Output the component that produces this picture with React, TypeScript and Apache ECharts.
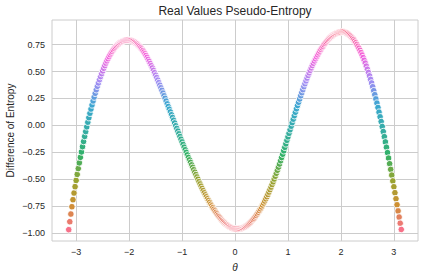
import React, { useEffect, useRef } from "react";
import * as echarts from "echarts";

// θ values of the scatter points
const theta = [
  -3.14, -3.12, -3.10, -3.08, -3.06, -3.04, -3.02, -3.00, -2.98, -2.96,
  -2.94, -2.92, -2.90, -2.88, -2.86, -2.84, -2.82, -2.80, -2.78, -2.76,
  -2.74, -2.72, -2.70, -2.68, -2.66, -2.64, -2.62, -2.60, -2.58, -2.56,
  -2.54, -2.52, -2.50, -2.48, -2.46, -2.44, -2.42, -2.40, -2.38, -2.36,
  -2.34, -2.32, -2.30, -2.28, -2.26, -2.24, -2.22, -2.20, -2.18, -2.16,
  -2.14, -2.12, -2.10, -2.08, -2.06, -2.04, -2.02, -2.00, -1.98, -1.96,
  -1.94, -1.92, -1.90, -1.88, -1.86, -1.84, -1.82, -1.80, -1.78, -1.76,
  -1.74, -1.72, -1.70, -1.68, -1.66, -1.64, -1.62, -1.60, -1.58, -1.56,
  -1.54, -1.52, -1.50, -1.48, -1.46, -1.44, -1.42, -1.40, -1.38, -1.36,
  -1.34, -1.32, -1.30, -1.28, -1.26, -1.24, -1.22, -1.20, -1.18, -1.16,
  -1.14, -1.12, -1.10, -1.08, -1.06, -1.04, -1.02, -1.00, -0.98, -0.96,
  -0.94, -0.92, -0.90, -0.88, -0.86, -0.84, -0.82, -0.80, -0.78, -0.76,
  -0.74, -0.72, -0.70, -0.68, -0.66, -0.64, -0.62, -0.60, -0.58, -0.56,
  -0.54, -0.52, -0.50, -0.48, -0.46, -0.44, -0.42, -0.40, -0.38, -0.36,
  -0.34, -0.32, -0.30, -0.28, -0.26, -0.24, -0.22, -0.20, -0.18, -0.16,
  -0.14, -0.12, -0.10, -0.08, -0.06, -0.04, -0.02, 0.00, 0.02, 0.04,
  0.06, 0.08, 0.10, 0.12, 0.14, 0.16, 0.18, 0.20, 0.22, 0.24,
  0.26, 0.28, 0.30, 0.32, 0.34, 0.36, 0.38, 0.40, 0.42, 0.44,
  0.46, 0.48, 0.50, 0.52, 0.54, 0.56, 0.58, 0.60, 0.62, 0.64,
  0.66, 0.68, 0.70, 0.72, 0.74, 0.76, 0.78, 0.80, 0.82, 0.84,
  0.86, 0.88, 0.90, 0.92, 0.94, 0.96, 0.98, 1.00, 1.02, 1.04,
  1.06, 1.08, 1.10, 1.12, 1.14, 1.16, 1.18, 1.20, 1.22, 1.24,
  1.26, 1.28, 1.30, 1.32, 1.34, 1.36, 1.38, 1.40, 1.42, 1.44,
  1.46, 1.48, 1.50, 1.52, 1.54, 1.56, 1.58, 1.60, 1.62, 1.64,
  1.66, 1.68, 1.70, 1.72, 1.74, 1.76, 1.78, 1.80, 1.82, 1.84,
  1.86, 1.88, 1.90, 1.92, 1.94, 1.96, 1.98, 2.00, 2.02, 2.04,
  2.06, 2.08, 2.10, 2.12, 2.14, 2.16, 2.18, 2.20, 2.22, 2.24,
  2.26, 2.28, 2.30, 2.32, 2.34, 2.36, 2.38, 2.40, 2.42, 2.44,
  2.46, 2.48, 2.50, 2.52, 2.54, 2.56, 2.58, 2.60, 2.62, 2.64,
  2.66, 2.68, 2.70, 2.72, 2.74, 2.76, 2.78, 2.80, 2.82, 2.84,
  2.86, 2.88, 2.90, 2.92, 2.94, 2.96, 2.98, 3.00, 3.02, 3.04,
  3.06, 3.08, 3.10, 3.12, 3.14,
];

// Difference of entropy at each θ
const entropy = [
  -0.967, -0.893, -0.822, -0.754, -0.689, -0.627, -0.568, -0.510, -0.454, -0.400,
  -0.347, -0.296, -0.246, -0.197, -0.149, -0.102, -0.057, -0.013, 0.030, 0.072,
  0.113, 0.152, 0.190, 0.227, 0.263, 0.298, 0.331, 0.363, 0.394, 0.424,
  0.453, 0.480, 0.506, 0.531, 0.555, 0.578, 0.599, 0.619, 0.638, 0.656,
  0.673, 0.688, 0.702, 0.715, 0.727, 0.738, 0.748, 0.756, 0.764, 0.770,
  0.776, 0.781, 0.785, 0.788, 0.790, 0.791, 0.792,
  0.791, 0.790, 0.788, 0.784, 0.780, 0.774, 0.768, 0.760, 0.752, 0.742,
  0.732, 0.720, 0.708, 0.694, 0.680, 0.664, 0.648, 0.631, 0.612, 0.594,
  0.574, 0.554, 0.533, 0.511, 0.489, 0.466, 0.444, 0.420, 0.397, 0.373,
  0.349, 0.325, 0.300, 0.275, 0.251, 0.226, 0.200, 0.175, 0.150, 0.125,
  0.099, 0.074, 0.048, 0.023, -0.003, -0.028, -0.053, -0.078, -0.103, -0.128,
  -0.153, -0.177, -0.202, -0.226, -0.250, -0.273, -0.297, -0.320, -0.343, -0.366,
  -0.389, -0.411, -0.434, -0.456, -0.478, -0.500, -0.522, -0.543, -0.564, -0.585,
  -0.605, -0.625, -0.644, -0.662, -0.680, -0.697, -0.714, -0.731, -0.747, -0.763,
  -0.778, -0.793, -0.807, -0.821, -0.835, -0.847, -0.859, -0.871, -0.882, -0.892,
  -0.902, -0.911, -0.919, -0.927, -0.934, -0.940, -0.945, -0.950, -0.953, -0.956,
  -0.958, -0.959, -0.960,
  -0.960, -0.959, -0.957, -0.955, -0.951, -0.947, -0.942, -0.936, -0.929, -0.921,
  -0.913, -0.904, -0.894, -0.883, -0.872, -0.860, -0.847, -0.834, -0.820, -0.805,
  -0.789, -0.773, -0.756, -0.738, -0.720, -0.701, -0.681, -0.661, -0.640, -0.618,
  -0.595, -0.572, -0.548, -0.523, -0.497, -0.471, -0.444, -0.416, -0.387, -0.358,
  -0.328, -0.298, -0.267, -0.235, -0.203, -0.171, -0.138, -0.106, -0.073, -0.040,
  -0.007, 0.026, 0.058, 0.090, 0.122, 0.154, 0.185, 0.215, 0.245, 0.275,
  0.304, 0.332, 0.360, 0.387, 0.413, 0.439, 0.464, 0.488, 0.511, 0.534,
  0.556, 0.577, 0.598, 0.618, 0.637, 0.655, 0.673, 0.690, 0.706, 0.721,
  0.735, 0.749, 0.762, 0.774, 0.786, 0.797, 0.807, 0.817, 0.825, 0.833,
  0.840, 0.846, 0.851, 0.856, 0.860, 0.862, 0.865, 0.866,
  0.870, 0.870, 0.869, 0.865, 0.860, 0.854, 0.847, 0.839, 0.830, 0.819,
  0.808, 0.796, 0.782, 0.767, 0.751, 0.734, 0.716, 0.696, 0.675, 0.653,
  0.629, 0.604, 0.578, 0.550, 0.521, 0.491, 0.460, 0.427, 0.394, 0.359,
  0.322, 0.285, 0.246, 0.207, 0.166, 0.123, 0.080, 0.036, -0.010, -0.057,
  -0.104, -0.153, -0.202, -0.252, -0.303, -0.355, -0.408, -0.461, -0.515, -0.569,
  -0.624, -0.680, -0.736, -0.793, -0.850, -0.907, -0.965,
];

const xTicks = [-3, -2, -1, 0, 1, 2, 3];
const yTicks = [-1, -0.75, -0.5, -0.25, 0, 0.25, 0.5, 0.75];
const huslColors = [
  "#f77189", "#ce9032", "#97a431", "#32b166", "#36ada4",
  "#39a7d0", "#a48cf4", "#f561dd", "#f7718a",
];
const titleText = "Real Values Pseudo-Entropy";
const xLabel = "θ";
const yLabel = "Difference of Entropy";

const FONT = "'Liberation Sans', Arial, Helvetica, sans-serif";
const TEXT = "#262626";
const GRID = "#cccccc";

function withMinus(s: string): string {
  return s.replace("-", "\u2212");
}

export default function App() {
  const ref = useRef<HTMLDivElement | null>(null);

  useEffect(() => {
    document.body.style.margin = "0";
    if (!ref.current) return;
    const chart = echarts.init(ref.current, null, { renderer: "svg" });
    const data = theta.map((t, i) => [t, entropy[i]]);
    const vMin = Math.min(...entropy);
    const vMax = Math.max(...entropy);

    chart.setOption({
      animation: false,
      backgroundColor: "#ffffff",
      grid: {
        left: 52,
        right: 6,
        top: 20,
        bottom: 39,
        containLabel: false,
        outerBoundsMode: "none",
        show: true,
        borderColor: GRID,
        borderWidth: 1,
        backgroundColor: "transparent",
      },
      graphic: [
        {
          type: "text",
          x: 235,
          y: 11,
          style: {
            text: titleText,
            font: `12px ${FONT}`,
            fill: TEXT,
            textAlign: "center",
            textVerticalAlign: "middle",
          },
        },
      ],
      xAxis: {
        type: "value",
        min: -3.456,
        max: 3.456,
        axisLine: { show: false },
        axisTick: { show: false, customValues: xTicks },
        axisLabel: {
          customValues: xTicks,
          formatter: (v: number) => withMinus(String(v)),
          color: TEXT,
          fontSize: 9,
          fontFamily: FONT,
          margin: 6,
        },
        splitLine: { show: true, lineStyle: { color: GRID, width: 1 } },
        name: xLabel,
        nameLocation: "middle",
        nameGap: 21,
        nameMoveOverlap: false,
        nameTextStyle: {
          fontStyle: "italic",
          fontSize: 10,
          color: TEXT,
          fontFamily: FONT,
        },
      },
      yAxis: {
        type: "value",
        min: -1.072,
        max: 0.978,
        axisLine: { show: false },
        axisTick: { show: false, customValues: yTicks },
        axisLabel: {
          customValues: yTicks,
          formatter: (v: number) => withMinus(v.toFixed(2)),
          color: TEXT,
          fontSize: 9,
          fontFamily: FONT,
          margin: 7,
        },
        splitLine: { show: true, lineStyle: { color: GRID, width: 1 } },
        name: yLabel,
        nameLocation: "middle",
        nameRotate: 90,
        nameGap: 37,
        nameMoveOverlap: false,
        nameTextStyle: { fontSize: 10, color: TEXT, fontFamily: FONT },
      },
      visualMap: {
        type: "continuous",
        show: false,
        dimension: 1,
        seriesIndex: 0,
        min: vMin,
        max: vMax,
        inRange: { color: huslColors },
      },
      series: [
        {
          type: "scatter",
          data,
          symbol: "circle",
          symbolSize: 6.5,
          itemStyle: { borderColor: "#ffffff", borderWidth: 0.85, opacity: 1 },
          emphasis: { disabled: true },
        },
      ],
    });

    return () => {
      chart.dispose();
    };
  }, []);

  return <div ref={ref} style={{ width: 424, height: 280 }} />;
}
